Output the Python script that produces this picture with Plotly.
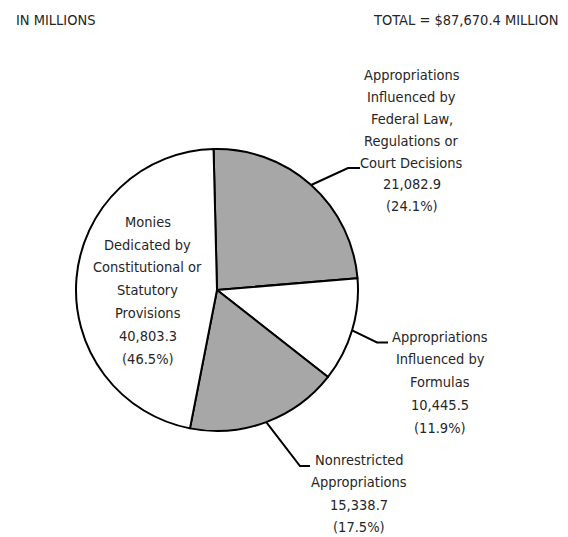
import math
import plotly.graph_objects as go

# ---- data ----
categories = [
    ["Appropriations", "Influenced by", "Federal Law,", "Regulations or", "Court Decisions"],
    ["Appropriations", "Influenced by", "Formulas"],
    ["Nonrestricted", "Appropriations"],
    ["Monies", "Dedicated by", "Constitutional or", "Statutory", "Provisions"],
]
values = [21082.9, 10445.5, 15338.7, 40803.3]
percents = ["24.1%", "11.9%", "17.5%", "46.5%"]
total_label = "TOTAL = $87,670.4 MILLION"
unit_label = "IN MILLIONS"

# ---- layout / style ----
W, H = 568, 537
CX, CY, R = 217, 290, 141           # pie centre and radius in px
ROT = -1.4                           # start angle of first slice (deg, clockwise from 12)
fills = ["#a7a7a7", "#ffffff", "#a7a7a7", "#ffffff"]
FONT = "DejaVu Sans Condensed, Liberation Sans Narrow, sans-serif"
TXT = "#262626"
FS = 14.5

# label block: centre x, first line centre y, line spacing (px)
label_pos = [(411.5, 75, 21.9), (440, 336.7, 22.7), (359, 460, 22.3), (147.5, 221.7, 22.8)]
# leader elbow and end points (px); None = label inside
leaders = [((348, 168), (360, 168)), ((377, 342.5), (388, 342.5)),
           ((300, 466), (310, 466)), None]


def px(x):
    return x / W


def py(y):
    return 1 - y / H


fig = go.Figure(go.Pie(
    values=values,
    labels=[" ".join(c) for c in categories],
    sort=False,
    direction="clockwise",
    rotation=ROT,
    textinfo="none",
    hoverinfo="label+value+percent",
    marker=dict(colors=fills, line=dict(color="#000000", width=2)),
    domain=dict(x=[px(CX - R), px(CX + R)], y=[py(CY + R), py(CY - R)]),
    showlegend=False,
))

annotations = []
shapes = []
tot = sum(values)
cum = 0.0
for i, v in enumerate(values):
    mid = ROT + (cum + v / 2) / tot * 360.0
    cum += v
    lx, ly, sp = label_pos[i]
    lines = categories[i] + [f"{v:,.1f}", f"({percents[i]})"]
    for k, line in enumerate(lines):
        annotations.append(dict(
            x=px(lx), y=py(ly + k * sp), xref="paper", yref="paper",
            text=line, showarrow=False, align="center",
            xanchor="center", yanchor="middle",
            font=dict(family=FONT, size=FS, color=TXT),
        ))
    if leaders[i] is not None:
        a = math.radians(mid)
        sx = CX + R * math.sin(a)
        sy = CY - R * math.cos(a)
        (ex, ey), (fx, fy) = leaders[i]
        path = f"M {px(sx)},{py(sy)} L {px(ex)},{py(ey)} L {px(fx)},{py(fy)}"
        shapes.append(dict(type="path", xref="paper", yref="paper", path=path,
                           line=dict(color="#000000", width=2)))

annotations.append(dict(x=px(14), y=py(20), xref="paper", yref="paper",
                        text=unit_label, showarrow=False, xanchor="left", yanchor="middle",
                        font=dict(family=FONT, size=FS, color=TXT)))
annotations.append(dict(x=px(560), y=py(20), xref="paper", yref="paper",
                        text=total_label, showarrow=False, xanchor="right", yanchor="middle",
                        font=dict(family=FONT, size=FS, color=TXT)))

fig.update_layout(
    width=W, height=H,
    margin=dict(l=0, r=0, t=0, b=0),
    paper_bgcolor="#ffffff", plot_bgcolor="#ffffff",
    annotations=annotations, shapes=shapes,
)

fig.write_html("out.html",
               config={"displayModeBar": False},
               post_script="document.body.style.margin='0';document.body.style.overflow='hidden';")
